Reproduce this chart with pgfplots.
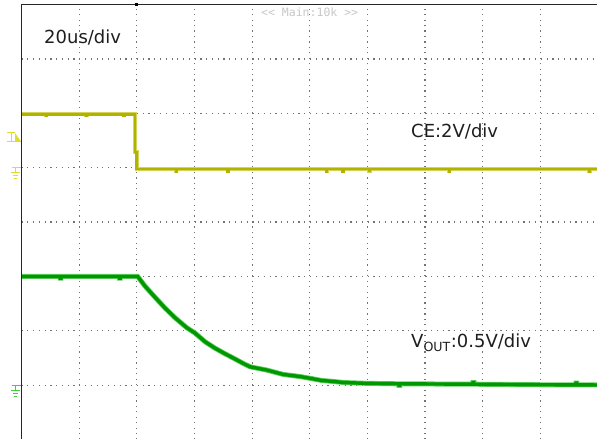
\documentclass[border=0pt]{standalone}
\usepackage{pgfplots}
\pgfplotsset{compat=1.18}
\usepackage{fontspec}
\setmainfont{DejaVu Sans}
\newfontfamily\monofont{DejaVu Sans Mono}

\definecolor{cecore}{RGB}{178,178,0}
\definecolor{celight}{RGB}{212,212,90}
\definecolor{cemark}{RGB}{222,222,40}
\definecolor{vocore}{RGB}{0,152,0}
\definecolor{volight}{RGB}{95,205,95}
\definecolor{vomark}{RGB}{60,210,60}
\definecolor{dotgray}{RGB}{115,115,115}
\definecolor{txt}{RGB}{30,30,30}

\begin{document}
\begin{tikzpicture}
  % picture = the 597 x 439 screen crop, 1 px = 1 pt
  \useasboundingbox (-21.5pt,4.5pt) rectangle (575.5pt,-434.5pt);
  \clip (-21.5pt,4.5pt) rectangle (575.5pt,-434.5pt);

  \begin{axis}[
    at={(0,0)}, anchor=north west,
    scale only axis,
    width=576.5pt, height=435.2pt,
    xmin=-40, xmax=160,   % time in us, 20 us/div
    ymin=0, ymax=8,       % screen divisions
    xtick={-40,-20,...,160}, ytick={0,...,8},
    xticklabels={}, yticklabels={},
    major tick length=0pt,
    grid=major,
    x grid style={dotgray, line width=1.2pt, dash pattern=on 1.2pt off 4.24pt},
    y grid style={dotgray, line width=1.2pt, dash pattern=on 1.2pt off 4.57pt},
    axis line style={draw=none},
    clip=false,
  ]
    % CE, 2 V/div, ground at division 5
    \addplot[no marks, draw=cecore, line width=2.8pt,
      preaction={draw=celight, line width=3.8pt},
      y filter/.expression={5+y/2}] coordinates {
      (-40,1.97) (-31.5,1.97) (-31.5,1.92) (-31.3,1.92) (-31.3,1.97)
      (-17.5,1.97) (-17.5,1.93) (-17.3,1.93) (-17.3,1.97)
      (-4.5,1.97) (-4.5,1.92) (-4.3,1.92) (-4.3,1.97)
      (-0.6,1.97) (-0.6,0.58) (0,0.58) (0,-0.05)
      (13.6,-0.05) (13.6,-0.13) (13.8,-0.13) (13.8,-0.05)
      (31.6,-0.05) (31.6,-0.13) (31.8,-0.13) (31.8,-0.05)
      (65.8,-0.05) (65.8,-0.13) (66,-0.13) (66,-0.05)
      (71.4,-0.05) (71.4,-0.13) (71.6,-0.13) (71.6,-0.05)
      (80.6,-0.05) (80.6,-0.12) (80.8,-0.12) (80.8,-0.05)
      (108.3,-0.05) (108.3,-0.13) (108.5,-0.13) (108.5,-0.05)
      (157,-0.05) (157,-0.13) (157.2,-0.13) (157.2,-0.05) (160,-0.05)
    };
    % VOUT, 0.5 V/div, ground at division 1
    \addplot[no marks, draw=vocore, line width=3.4pt,
      preaction={draw=volight, line width=5pt},
      y filter/.expression={1+2*y}] coordinates {
      (-40,1.00) (-26.5,1.00) (-26.5,0.985) (-26.3,0.985) (-26.3,1.00)
      (-6,1.00) (-6,0.985) (-5.8,0.985) (-5.8,1.00) (0.3,1.00)
      (2.9,0.91) (6.3,0.81) (9.8,0.71) (13.3,0.62) (17.3,0.53) (20.2,0.48)
      (23.7,0.40) (27.2,0.34) (30.6,0.29) (33.5,0.25) (37,0.20) (39.3,0.17)
      (45.1,0.14) (50.8,0.10) (56.7,0.08) (60,0.065) (64,0.045)
      (68.2,0.035) (72,0.025) (79.8,0.018) (90,0.014)
      (91,0.014) (91,0.0) (91.2,0.0) (91.2,0.014)
      (102.9,0.012) (116.7,0.010) (116.7,0.025) (116.9,0.025) (116.9,0.010)
      (140,0.005) (152.4,0.004) (152.4,0.02) (152.6,0.02) (152.6,0.004) (160,0.003)
    };
  \end{axis}

  % screen decorations in pixel coordinates
  \begin{scope}[x=1pt, y=-1pt, shift={(-21.5pt,4.5pt)}]
    \draw[black!85, line width=1.3pt] (21.5,440) -- (21.5,4.5) -- (600,4.5);
    \fill[black] (134.7,3) rectangle (137.7,6);

    % CE trigger level and ground markers
    \draw[cemark, line width=1pt] (7,132.5) -- (15,132.5) (11,132.5) -- (11,141.5)
      (7,141.5) -- (21,141.5);
    \fill[cemark] (15,133) -- (21,141.5) -- (15,141.5) -- cycle;
    \draw[cemark, line width=1pt] (11.7,167.7) -- (21,167.7) (15.7,167.7) -- (15.7,172)
      (11,172) -- (20,172) (13.3,175.3) -- (18.3,175.3) (14.3,178) -- (16.7,178);
    % VOUT ground marker
    \draw[vomark, line width=1pt] (11.7,385.7) -- (21,385.7) (15.7,385.7) -- (15.7,390)
      (11,390) -- (20,390) (13.3,393.3) -- (18.3,393.3) (14.3,396) -- (16.7,396);

    \node[anchor=base west, inner sep=0pt, text=txt, font=\fontsize{18}{20}\selectfont]
      at (44,43) {20us/div};
    \node[anchor=base west, inner sep=0pt, text=txt, font=\fontsize{18}{20}\selectfont]
      at (411,137) {CE:2V/div};
    \node[anchor=base west, inner sep=0pt, text=txt, font=\fontsize{18}{20}\selectfont]
      at (411,347.7) {V\textsubscript{OUT}:0.5V/div};
    \node[anchor=base west, inner sep=0pt, text=black!22, font=\monofont\fontsize{11.5}{12}\selectfont]
      at (261,17) {{<}{<} Main:10k {>}{>}};
  \end{scope}
\end{tikzpicture}
\end{document}
